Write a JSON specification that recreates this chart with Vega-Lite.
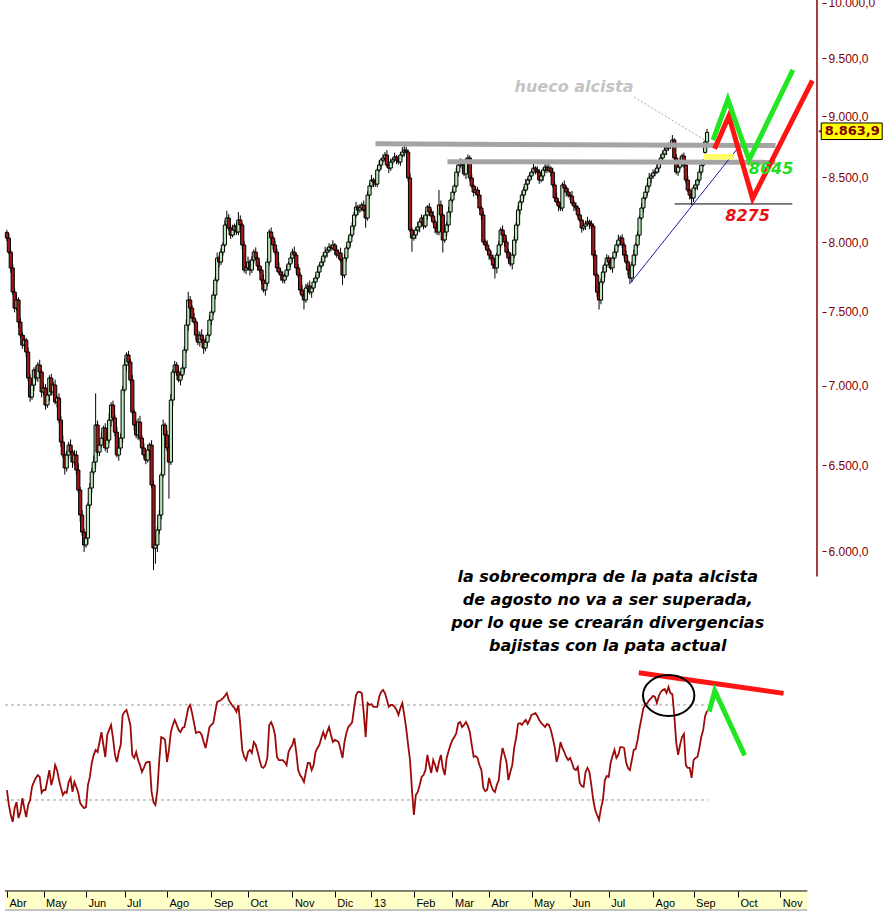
{
"$schema":"https://vega.github.io/schema/vega-lite/v6.json",
"width":822,"height":911,
"autosize":{"type":"none"},
"padding":{"left":0,"top":0,"right":70,"bottom":0},
"background":"#ffffff",
"config":{"view":{"stroke":null},"locale":{"number":{"decimal":",","thousands":".","grouping":[3],"currency":["","€"]}}},
"datasets":{
"cd":[
{"i":0,"o":8075,"h":8095,"l":8008,"c":8033,"r":34.2},{"i":1,"o":8033,"h":8068,"l":7913,"c":7928,"r":27.9},{"i":2,"o":7928,"h":7943,"l":7777,"c":7812,"r":23.7},{"i":3,"o":7812,"h":7842,"l":7619,"c":7639,"r":20.8},{"i":4,"o":7639,"h":7664,"l":7495,"c":7525,"r":26.6},{"i":5,"o":7525,"h":7622,"l":7507,"c":7582,"r":29.1},{"i":6,"o":7582,"h":7600,"l":7388,"c":7428,"r":22.4},{"i":7,"o":7428,"h":7456,"l":7316,"c":7338,"r":24.9},{"i":8,"o":7338,"h":7358,"l":7245,"c":7270,"r":30.8},{"i":9,"o":7270,"h":7339,"l":7255,"c":7304,"r":26.6},
{"i":10,"o":7304,"h":7319,"l":7188,"c":7223,"r":22.8},{"i":11,"o":7223,"h":7253,"l":7030,"c":7050,"r":27.9},{"i":12,"o":7050,"h":7075,"l":6896,"c":6926,"r":30.0},{"i":13,"o":6926,"h":7044,"l":6908,"c":7004,"r":35.5},{"i":14,"o":7004,"h":7121,"l":6964,"c":7103,"r":37.6},{"i":15,"o":7103,"h":7131,"l":7028,"c":7050,"r":39.3},{"i":16,"o":7050,"h":7156,"l":7025,"c":7136,"r":40.5},{"i":17,"o":7136,"h":7171,"l":7075,"c":7090,"r":39.7},{"i":18,"o":7090,"h":7105,"l":6924,"c":6959,"r":33.0},{"i":19,"o":6959,"h":7015,"l":6939,"c":6985,"r":34.2},
{"i":20,"o":6985,"h":7010,"l":6845,"c":6875,"r":34.2},{"i":21,"o":6875,"h":6979,"l":6857,"c":6939,"r":38.4},{"i":22,"o":6939,"h":7068,"l":6899,"c":7050,"r":42.6},{"i":23,"o":7050,"h":7078,"l":6937,"c":6959,"r":36.3},{"i":24,"o":6959,"h":7024,"l":6934,"c":7004,"r":39.3},{"i":25,"o":7004,"h":7039,"l":6879,"c":6894,"r":44.7},{"i":26,"o":6894,"h":6935,"l":6859,"c":6920,"r":42.6},{"i":27,"o":6920,"h":6950,"l":6759,"c":6779,"r":38.4},{"i":28,"o":6779,"h":6804,"l":6612,"c":6642,"r":35.1},{"i":29,"o":6642,"h":6682,"l":6544,"c":6562,"r":32.1},
{"i":30,"o":6562,"h":6580,"l":6443,"c":6483,"r":33.4},{"i":31,"o":6483,"h":6590,"l":6461,"c":6562,"r":33.0},{"i":32,"o":6562,"h":6643,"l":6537,"c":6623,"r":37.6},{"i":33,"o":6623,"h":6658,"l":6565,"c":6580,"r":39.3},{"i":34,"o":6580,"h":6595,"l":6484,"c":6519,"r":33.4},{"i":35,"o":6519,"h":6592,"l":6499,"c":6562,"r":37.6},{"i":36,"o":6562,"h":6587,"l":6441,"c":6471,"r":35.5},{"i":37,"o":6471,"h":6511,"l":6333,"c":6351,"r":33.0},{"i":38,"o":6351,"h":6369,"l":6165,"c":6205,"r":28.7},{"i":39,"o":6205,"h":6233,"l":6085,"c":6107,"r":27.5},
{"i":40,"o":6107,"h":6127,"l":5995,"c":6034,"r":26.6},{"i":41,"o":6034,"h":6108,"l":6019,"c":6073,"r":27.0},{"i":42,"o":6073,"h":6278,"l":6038,"c":6263,"r":36.3},{"i":43,"o":6263,"h":6393,"l":6243,"c":6363,"r":39.7},{"i":44,"o":6363,"h":6484,"l":6333,"c":6459,"r":45.6},{"i":45,"o":6459,"h":6559,"l":6441,"c":6519,"r":49.0},{"i":46,"o":6519,"h":6950,"l":6479,"c":6748,"r":51.1},{"i":47,"o":6748,"h":6776,"l":6558,"c":6580,"r":50.2},{"i":48,"o":6580,"h":6643,"l":6555,"c":6623,"r":54.4},{"i":49,"o":6623,"h":6701,"l":6608,"c":6666,"r":58.6},
{"i":50,"o":6666,"h":6744,"l":6631,"c":6729,"r":53.2},{"i":51,"o":6729,"h":6759,"l":6585,"c":6605,"r":48.1},{"i":52,"o":6605,"h":6679,"l":6575,"c":6654,"r":57.4},{"i":53,"o":6654,"h":6819,"l":6636,"c":6779,"r":59.5},{"i":54,"o":6779,"h":6893,"l":6739,"c":6875,"r":61.6},{"i":55,"o":6875,"h":6903,"l":6770,"c":6792,"r":56.1},{"i":56,"o":6792,"h":6812,"l":6678,"c":6703,"r":49.0},{"i":57,"o":6703,"h":6738,"l":6547,"c":6562,"r":46.0},{"i":58,"o":6562,"h":6620,"l":6527,"c":6605,"r":50.2},{"i":59,"o":6605,"h":6696,"l":6585,"c":6666,"r":53.2},
{"i":60,"o":6666,"h":6997,"l":6636,"c":6972,"r":65.8},{"i":61,"o":6972,"h":7176,"l":6954,"c":7136,"r":67.1},{"i":62,"o":7136,"h":7221,"l":7096,"c":7203,"r":67.9},{"i":63,"o":7203,"h":7231,"l":7134,"c":7156,"r":64.9},{"i":64,"o":7156,"h":7176,"l":7012,"c":7037,"r":61.6},{"i":65,"o":7037,"h":7072,"l":6815,"c":6830,"r":49.0},{"i":66,"o":6830,"h":6845,"l":6713,"c":6748,"r":47.7},{"i":67,"o":6748,"h":6778,"l":6665,"c":6685,"r":50.2},{"i":68,"o":6685,"h":6791,"l":6655,"c":6766,"r":46.8},{"i":69,"o":6766,"h":6806,"l":6648,"c":6666,"r":44.7},
{"i":70,"o":6666,"h":6684,"l":6565,"c":6605,"r":41.8},{"i":71,"o":6605,"h":6633,"l":6540,"c":6562,"r":43.5},{"i":72,"o":6562,"h":6582,"l":6506,"c":6531,"r":45.6},{"i":73,"o":6531,"h":6627,"l":6516,"c":6592,"r":46.0},{"i":74,"o":6592,"h":6638,"l":6557,"c":6623,"r":46.0},{"i":75,"o":6623,"h":6653,"l":6361,"c":6381,"r":33.4},{"i":76,"o":6381,"h":6406,"l":5895,"c":6017,"r":29.1},{"i":77,"o":6017,"h":6074,"l":5930,"c":6034,"r":27.9},{"i":78,"o":6034,"h":6137,"l":5994,"c":6119,"r":34.2},{"i":79,"o":6119,"h":6233,"l":6097,"c":6205,"r":46.8},
{"i":80,"o":6205,"h":6461,"l":6180,"c":6441,"r":56.5},{"i":81,"o":6441,"h":6783,"l":6426,"c":6748,"r":56.1},{"i":82,"o":6748,"h":6763,"l":6650,"c":6685,"r":55.3},{"i":83,"o":6685,"h":6715,"l":6585,"c":6605,"r":46.0},{"i":84,"o":6605,"h":6630,"l":6300,"c":6519,"r":51.1},{"i":85,"o":6519,"h":6947,"l":6501,"c":6907,"r":58.6},{"i":86,"o":6907,"h":7108,"l":6867,"c":7090,"r":61.6},{"i":87,"o":7090,"h":7164,"l":7068,"c":7136,"r":63.7},{"i":88,"o":7136,"h":7156,"l":7065,"c":7090,"r":61.6},{"i":89,"o":7090,"h":7125,"l":7022,"c":7037,"r":59.5},
{"i":90,"o":7037,"h":7085,"l":7002,"c":7070,"r":58.6},{"i":91,"o":7070,"h":7146,"l":7050,"c":7116,"r":60.3},{"i":92,"o":7116,"h":7261,"l":7086,"c":7236,"r":60.7},{"i":93,"o":7236,"h":7447,"l":7218,"c":7407,"r":64.5},{"i":94,"o":7407,"h":7640,"l":7367,"c":7582,"r":68.7},{"i":95,"o":7582,"h":7610,"l":7503,"c":7525,"r":70.0},{"i":96,"o":7525,"h":7545,"l":7430,"c":7455,"r":66.6},{"i":97,"o":7455,"h":7490,"l":7413,"c":7428,"r":62.4},{"i":98,"o":7428,"h":7443,"l":7303,"c":7338,"r":58.2},{"i":99,"o":7338,"h":7368,"l":7270,"c":7290,"r":58.6},
{"i":100,"o":7290,"h":7363,"l":7260,"c":7338,"r":58.6},{"i":101,"o":7338,"h":7378,"l":7286,"c":7304,"r":57.4},{"i":102,"o":7304,"h":7322,"l":7210,"c":7250,"r":54.4},{"i":103,"o":7250,"h":7318,"l":7228,"c":7290,"r":51.9},{"i":104,"o":7290,"h":7358,"l":7265,"c":7338,"r":56.1},{"i":105,"o":7338,"h":7477,"l":7323,"c":7442,"r":60.7},{"i":106,"o":7442,"h":7512,"l":7407,"c":7497,"r":61.6},{"i":107,"o":7497,"h":7647,"l":7477,"c":7617,"r":62.4},{"i":108,"o":7617,"h":7749,"l":7587,"c":7724,"r":67.1},{"i":109,"o":7724,"h":7924,"l":7706,"c":7884,"r":71.3},
{"i":110,"o":7884,"h":7902,"l":7815,"c":7855,"r":71.7},{"i":111,"o":7855,"h":7956,"l":7833,"c":7928,"r":72.1},{"i":112,"o":7928,"h":8001,"l":7903,"c":7981,"r":72.9},{"i":113,"o":7981,"h":8166,"l":7966,"c":8131,"r":73.8},{"i":114,"o":8131,"h":8240,"l":8096,"c":8184,"r":75.0},{"i":115,"o":8184,"h":8214,"l":8088,"c":8108,"r":72.1},{"i":116,"o":8108,"h":8133,"l":8025,"c":8055,"r":70.8},{"i":117,"o":8055,"h":8133,"l":8037,"c":8093,"r":69.6},{"i":118,"o":8093,"h":8141,"l":8053,"c":8123,"r":68.7},{"i":119,"o":8123,"h":8151,"l":8056,"c":8078,"r":67.1},
{"i":120,"o":8078,"h":8230,"l":8053,"c":8169,"r":70.0},{"i":121,"o":8169,"h":8204,"l":8116,"c":8131,"r":61.6},{"i":122,"o":8131,"h":8146,"l":7946,"c":7981,"r":51.1},{"i":123,"o":7981,"h":8011,"l":7777,"c":7797,"r":48.1},{"i":124,"o":7797,"h":7837,"l":7767,"c":7812,"r":46.8},{"i":125,"o":7812,"h":7895,"l":7794,"c":7855,"r":50.2},{"i":126,"o":7855,"h":7873,"l":7757,"c":7797,"r":51.1},{"i":127,"o":7797,"h":7898,"l":7775,"c":7870,"r":49.8},{"i":128,"o":7870,"h":7948,"l":7845,"c":7928,"r":54.4},{"i":129,"o":7928,"h":7963,"l":7869,"c":7884,"r":53.2},
{"i":130,"o":7884,"h":7899,"l":7791,"c":7826,"r":50.2},{"i":131,"o":7826,"h":7856,"l":7777,"c":7797,"r":46.8},{"i":132,"o":7797,"h":7822,"l":7694,"c":7724,"r":43.9},{"i":133,"o":7724,"h":7764,"l":7635,"c":7653,"r":43.5},{"i":134,"o":7653,"h":7720,"l":7613,"c":7702,"r":44.7},{"i":135,"o":7702,"h":7883,"l":7680,"c":7855,"r":47.7},{"i":136,"o":7855,"h":8098,"l":7830,"c":8078,"r":61.6},{"i":137,"o":8078,"h":8113,"l":8018,"c":8033,"r":62.8},{"i":138,"o":8033,"h":8048,"l":7946,"c":7981,"r":60.7},{"i":139,"o":7981,"h":8011,"l":7908,"c":7928,"r":57.4},
{"i":140,"o":7928,"h":7953,"l":7782,"c":7812,"r":48.1},{"i":141,"o":7812,"h":7852,"l":7764,"c":7782,"r":46.8},{"i":142,"o":7782,"h":7800,"l":7720,"c":7760,"r":46.8},{"i":143,"o":7760,"h":7788,"l":7702,"c":7724,"r":46.8},{"i":144,"o":7724,"h":7773,"l":7699,"c":7753,"r":46.0},{"i":145,"o":7753,"h":7832,"l":7738,"c":7797,"r":44.7},{"i":146,"o":7797,"h":7856,"l":7762,"c":7841,"r":50.2},{"i":147,"o":7841,"h":7914,"l":7821,"c":7884,"r":51.9},{"i":148,"o":7884,"h":7953,"l":7854,"c":7928,"r":53.2},{"i":149,"o":7928,"h":7968,"l":7888,"c":7906,"r":56.1},
{"i":150,"o":7906,"h":7924,"l":7772,"c":7812,"r":50.2},{"i":151,"o":7812,"h":7840,"l":7738,"c":7760,"r":42.6},{"i":152,"o":7760,"h":7780,"l":7628,"c":7653,"r":40.5},{"i":153,"o":7653,"h":7688,"l":7602,"c":7617,"r":39.3},{"i":154,"o":7617,"h":7632,"l":7515,"c":7582,"r":37.6},{"i":155,"o":7582,"h":7697,"l":7562,"c":7667,"r":41.8},{"i":156,"o":7667,"h":7706,"l":7637,"c":7681,"r":45.6},{"i":157,"o":7681,"h":7721,"l":7620,"c":7638,"r":45.6},{"i":158,"o":7638,"h":7685,"l":7598,"c":7667,"r":42.6},{"i":159,"o":7667,"h":7738,"l":7645,"c":7710,"r":44.7},
{"i":160,"o":7710,"h":7759,"l":7685,"c":7739,"r":50.2},{"i":161,"o":7739,"h":7817,"l":7724,"c":7782,"r":51.9},{"i":162,"o":7782,"h":7841,"l":7747,"c":7826,"r":53.2},{"i":163,"o":7826,"h":7885,"l":7806,"c":7855,"r":56.1},{"i":164,"o":7855,"h":7924,"l":7825,"c":7899,"r":58.6},{"i":165,"o":7899,"h":7968,"l":7881,"c":7928,"r":56.1},{"i":166,"o":7928,"h":7961,"l":7888,"c":7943,"r":58.6},{"i":167,"o":7943,"h":7994,"l":7921,"c":7966,"r":60.7},{"i":168,"o":7966,"h":7986,"l":7933,"c":7958,"r":57.4},{"i":169,"o":7958,"h":8016,"l":7943,"c":7981,"r":54.4},
{"i":170,"o":7981,"h":7996,"l":7908,"c":7943,"r":55.3},{"i":171,"o":7943,"h":7973,"l":7886,"c":7906,"r":54.9},{"i":172,"o":7906,"h":7946,"l":7876,"c":7921,"r":54.4},{"i":173,"o":7921,"h":7961,"l":7852,"c":7870,"r":51.1},{"i":174,"o":7870,"h":7888,"l":7690,"c":7760,"r":47.7},{"i":175,"o":7760,"h":7912,"l":7738,"c":7884,"r":54.4},{"i":176,"o":7884,"h":7978,"l":7859,"c":7958,"r":58.2},{"i":177,"o":7958,"h":8038,"l":7943,"c":8003,"r":60.7},{"i":178,"o":8003,"h":8070,"l":7968,"c":8055,"r":61.6},{"i":179,"o":8055,"h":8153,"l":8035,"c":8123,"r":62.8},
{"i":180,"o":8123,"h":8232,"l":8093,"c":8207,"r":68.7},{"i":181,"o":8207,"h":8308,"l":8189,"c":8268,"r":74.2},{"i":182,"o":8268,"h":8286,"l":8205,"c":8245,"r":75.5},{"i":183,"o":8245,"h":8289,"l":8223,"c":8261,"r":75.5},{"i":184,"o":8261,"h":8304,"l":8236,"c":8284,"r":75.0},{"i":185,"o":8284,"h":8319,"l":8230,"c":8245,"r":66.6},{"i":186,"o":8245,"h":8260,"l":8110,"c":8184,"r":56.5},{"i":187,"o":8184,"h":8391,"l":8164,"c":8361,"r":70.8},{"i":188,"o":8361,"h":8457,"l":8331,"c":8432,"r":70.0},{"i":189,"o":8432,"h":8519,"l":8414,"c":8479,"r":70.4},
{"i":190,"o":8479,"h":8497,"l":8423,"c":8463,"r":69.2},{"i":191,"o":8463,"h":8491,"l":8425,"c":8447,"r":69.2},{"i":192,"o":8447,"h":8578,"l":8422,"c":8558,"r":69.2},{"i":193,"o":8558,"h":8633,"l":8543,"c":8598,"r":73.4},{"i":194,"o":8598,"h":8654,"l":8563,"c":8639,"r":75.5},{"i":195,"o":8639,"h":8685,"l":8619,"c":8655,"r":76.3},{"i":196,"o":8655,"h":8704,"l":8625,"c":8679,"r":75.0},{"i":197,"o":8679,"h":8719,"l":8580,"c":8598,"r":72.1},{"i":198,"o":8598,"h":8616,"l":8534,"c":8574,"r":69.2},{"i":199,"o":8574,"h":8650,"l":8552,"c":8622,"r":70.0},
{"i":200,"o":8622,"h":8659,"l":8597,"c":8639,"r":70.0},{"i":201,"o":8639,"h":8698,"l":8624,"c":8663,"r":69.2},{"i":202,"o":8663,"h":8678,"l":8604,"c":8639,"r":67.9},{"i":203,"o":8639,"h":8669,"l":8602,"c":8622,"r":65.8},{"i":204,"o":8622,"h":8704,"l":8592,"c":8679,"r":68.7},{"i":205,"o":8679,"h":8743,"l":8661,"c":8703,"r":70.8},{"i":206,"o":8703,"h":8760,"l":8663,"c":8719,"r":65.8},{"i":207,"o":8719,"h":8747,"l":8681,"c":8703,"r":60.3},{"i":208,"o":8703,"h":8723,"l":8470,"c":8495,"r":53.2},{"i":209,"o":8495,"h":8530,"l":8078,"c":8093,"r":46.8},
{"i":210,"o":8093,"h":8108,"l":7930,"c":8033,"r":34.2},{"i":211,"o":8033,"h":8085,"l":8013,"c":8055,"r":23.7},{"i":212,"o":8055,"h":8118,"l":8025,"c":8093,"r":32.1},{"i":213,"o":8093,"h":8156,"l":8075,"c":8116,"r":33.4},{"i":214,"o":8116,"h":8172,"l":8076,"c":8154,"r":36.3},{"i":215,"o":8154,"h":8212,"l":8132,"c":8184,"r":39.7},{"i":216,"o":8184,"h":8204,"l":8098,"c":8123,"r":40.5},{"i":217,"o":8123,"h":8242,"l":8108,"c":8207,"r":42.6},{"i":218,"o":8207,"h":8283,"l":8172,"c":8268,"r":49.0},{"i":219,"o":8268,"h":8298,"l":8210,"c":8230,"r":44.7},
{"i":220,"o":8230,"h":8255,"l":8169,"c":8199,"r":41.4},{"i":221,"o":8199,"h":8239,"l":8136,"c":8154,"r":46.8},{"i":222,"o":8154,"h":8172,"l":8068,"c":8108,"r":44.7},{"i":223,"o":8108,"h":8136,"l":8056,"c":8078,"r":41.8},{"i":224,"o":8078,"h":8400,"l":8053,"c":8284,"r":46.0},{"i":225,"o":8284,"h":8319,"l":8192,"c":8207,"r":49.0},{"i":226,"o":8207,"h":8222,"l":7925,"c":8018,"r":43.5},{"i":227,"o":8018,"h":8108,"l":7998,"c":8078,"r":40.5},{"i":228,"o":8078,"h":8156,"l":8048,"c":8131,"r":47.7},{"i":229,"o":8131,"h":8270,"l":8113,"c":8230,"r":50.6},
{"i":230,"o":8230,"h":8340,"l":8190,"c":8322,"r":53.2},{"i":231,"o":8322,"h":8412,"l":8300,"c":8384,"r":55.3},{"i":232,"o":8384,"h":8452,"l":8359,"c":8432,"r":56.5},{"i":233,"o":8432,"h":8577,"l":8417,"c":8542,"r":58.2},{"i":234,"o":8542,"h":8613,"l":8507,"c":8598,"r":62.4},{"i":235,"o":8598,"h":8652,"l":8578,"c":8622,"r":62.8},{"i":236,"o":8622,"h":8647,"l":8568,"c":8598,"r":60.7},{"i":237,"o":8598,"h":8638,"l":8509,"c":8527,"r":61.6},{"i":238,"o":8527,"h":8657,"l":8487,"c":8639,"r":62.8},{"i":239,"o":8639,"h":8683,"l":8617,"c":8655,"r":61.2},
{"i":240,"o":8655,"h":8675,"l":8470,"c":8495,"r":58.6},{"i":241,"o":8495,"h":8530,"l":8417,"c":8432,"r":53.2},{"i":242,"o":8432,"h":8447,"l":8349,"c":8384,"r":48.1},{"i":243,"o":8384,"h":8430,"l":8364,"c":8400,"r":48.5},{"i":244,"o":8400,"h":8425,"l":8331,"c":8361,"r":47.7},{"i":245,"o":8361,"h":8401,"l":8243,"c":8261,"r":44.7},{"i":246,"o":8261,"h":8279,"l":8167,"c":8207,"r":42.6},{"i":247,"o":8207,"h":8235,"l":7981,"c":8003,"r":35.1},{"i":248,"o":8003,"h":8023,"l":7956,"c":7981,"r":33.8},{"i":249,"o":7981,"h":8016,"l":7928,"c":7943,"r":34.2},
{"i":250,"o":7943,"h":7958,"l":7871,"c":7906,"r":39.3},{"i":251,"o":7906,"h":7936,"l":7864,"c":7884,"r":36.3},{"i":252,"o":7884,"h":7909,"l":7803,"c":7833,"r":34.2},{"i":253,"o":7833,"h":7873,"l":7735,"c":7812,"r":33.4},{"i":254,"o":7812,"h":7924,"l":7772,"c":7906,"r":36.3},{"i":255,"o":7906,"h":8009,"l":7884,"c":7981,"r":38.4},{"i":256,"o":7981,"h":8113,"l":7956,"c":8093,"r":46.8},{"i":257,"o":8093,"h":8128,"l":8040,"c":8055,"r":51.9},{"i":258,"o":8055,"h":8070,"l":7968,"c":8003,"r":49.0},{"i":259,"o":8003,"h":8033,"l":7908,"c":7928,"r":46.0},
{"i":260,"o":7928,"h":7953,"l":7854,"c":7884,"r":38.4},{"i":261,"o":7884,"h":7924,"l":7823,"c":7841,"r":41.8},{"i":262,"o":7841,"h":7924,"l":7801,"c":7906,"r":44.7},{"i":263,"o":7906,"h":8046,"l":7884,"c":8018,"r":51.9},{"i":264,"o":8018,"h":8151,"l":7993,"c":8131,"r":56.1},{"i":265,"o":8131,"h":8280,"l":8116,"c":8245,"r":62.0},{"i":266,"o":8245,"h":8322,"l":8210,"c":8307,"r":62.4},{"i":267,"o":8307,"h":8391,"l":8287,"c":8361,"r":61.6},{"i":268,"o":8361,"h":8425,"l":8331,"c":8400,"r":62.8},{"i":269,"o":8400,"h":8487,"l":8382,"c":8447,"r":63.7},
{"i":270,"o":8447,"h":8497,"l":8407,"c":8479,"r":62.0},{"i":271,"o":8479,"h":8539,"l":8457,"c":8511,"r":63.7},{"i":272,"o":8511,"h":8562,"l":8486,"c":8542,"r":65.8},{"i":273,"o":8542,"h":8609,"l":8527,"c":8574,"r":66.2},{"i":274,"o":8574,"h":8589,"l":8523,"c":8558,"r":66.6},{"i":275,"o":8558,"h":8588,"l":8522,"c":8542,"r":65.4},{"i":276,"o":8542,"h":8567,"l":8449,"c":8479,"r":63.7},{"i":277,"o":8479,"h":8551,"l":8461,"c":8511,"r":62.4},{"i":278,"o":8511,"h":8576,"l":8471,"c":8558,"r":61.6},{"i":279,"o":8558,"h":8610,"l":8536,"c":8582,"r":60.7},
{"i":280,"o":8582,"h":8602,"l":8533,"c":8558,"r":62.0},{"i":281,"o":8558,"h":8609,"l":8543,"c":8574,"r":61.6},{"i":282,"o":8574,"h":8589,"l":8507,"c":8542,"r":59.5},{"i":283,"o":8542,"h":8572,"l":8420,"c":8440,"r":56.1},{"i":284,"o":8440,"h":8465,"l":8308,"c":8338,"r":52.3},{"i":285,"o":8338,"h":8378,"l":8289,"c":8307,"r":46.0},{"i":286,"o":8307,"h":8325,"l":8236,"c":8276,"r":49.0},{"i":287,"o":8276,"h":8304,"l":8239,"c":8261,"r":54.4},{"i":288,"o":8261,"h":8460,"l":8236,"c":8440,"r":51.9},{"i":289,"o":8440,"h":8475,"l":8401,"c":8416,"r":50.2},
{"i":290,"o":8416,"h":8431,"l":8349,"c":8384,"r":48.1},{"i":291,"o":8384,"h":8414,"l":8341,"c":8361,"r":46.8},{"i":292,"o":8361,"h":8386,"l":8323,"c":8353,"r":47.7},{"i":293,"o":8353,"h":8393,"l":8281,"c":8299,"r":45.6},{"i":294,"o":8299,"h":8317,"l":8236,"c":8276,"r":43.1},{"i":295,"o":8276,"h":8304,"l":8239,"c":8261,"r":42.6},{"i":296,"o":8261,"h":8281,"l":8182,"c":8207,"r":43.9},{"i":297,"o":8207,"h":8242,"l":8154,"c":8169,"r":37.2},{"i":298,"o":8169,"h":8184,"l":8073,"c":8108,"r":35.9},{"i":299,"o":8108,"h":8153,"l":8088,"c":8123,"r":35.5},
{"i":300,"o":8123,"h":8164,"l":8093,"c":8139,"r":41.8},{"i":301,"o":8139,"h":8194,"l":8121,"c":8154,"r":43.5},{"i":302,"o":8154,"h":8172,"l":8099,"c":8139,"r":41.8},{"i":303,"o":8139,"h":8167,"l":8101,"c":8123,"r":36.3},{"i":304,"o":8123,"h":8143,"l":7881,"c":7906,"r":30.0},{"i":305,"o":7906,"h":7941,"l":7745,"c":7760,"r":25.8},{"i":306,"o":7760,"h":7775,"l":7603,"c":7638,"r":23.7},{"i":307,"o":7638,"h":7668,"l":7515,"c":7582,"r":21.6},{"i":308,"o":7582,"h":7735,"l":7552,"c":7710,"r":26.6},{"i":309,"o":7710,"h":7822,"l":7692,"c":7782,"r":30.0},
{"i":310,"o":7782,"h":7851,"l":7742,"c":7833,"r":38.4},{"i":311,"o":7833,"h":7912,"l":7811,"c":7884,"r":40.1},{"i":312,"o":7884,"h":7904,"l":7830,"c":7855,"r":39.7},{"i":313,"o":7855,"h":7890,"l":7797,"c":7812,"r":45.6},{"i":314,"o":7812,"h":7899,"l":7777,"c":7884,"r":48.5},{"i":315,"o":7884,"h":7958,"l":7864,"c":7928,"r":51.1},{"i":316,"o":7928,"h":8006,"l":7898,"c":7981,"r":47.7},{"i":317,"o":7981,"h":8058,"l":7963,"c":8018,"r":49.0},{"i":318,"o":8018,"h":8051,"l":7978,"c":8033,"r":52.3},{"i":319,"o":8033,"h":8061,"l":7959,"c":7981,"r":52.3},
{"i":320,"o":7981,"h":8001,"l":7881,"c":7906,"r":51.9},{"i":321,"o":7906,"h":7941,"l":7840,"c":7855,"r":46.0},{"i":322,"o":7855,"h":7870,"l":7762,"c":7797,"r":43.5},{"i":323,"o":7797,"h":7827,"l":7695,"c":7739,"r":42.6},{"i":324,"o":7739,"h":7858,"l":7709,"c":7833,"r":46.8},{"i":325,"o":7833,"h":7946,"l":7815,"c":7906,"r":51.1},{"i":326,"o":7906,"h":7999,"l":7866,"c":7981,"r":51.5},{"i":327,"o":7981,"h":8083,"l":7959,"c":8055,"r":55.3},{"i":328,"o":8055,"h":8204,"l":8030,"c":8184,"r":60.3},{"i":329,"o":8184,"h":8296,"l":8169,"c":8261,"r":64.5},
{"i":330,"o":8261,"h":8353,"l":8226,"c":8338,"r":68.7},{"i":331,"o":8338,"h":8414,"l":8318,"c":8384,"r":70.0},{"i":332,"o":8384,"h":8457,"l":8354,"c":8432,"r":70.8},{"i":333,"o":8432,"h":8535,"l":8414,"c":8495,"r":72.1},{"i":334,"o":8495,"h":8529,"l":8455,"c":8511,"r":72.9},{"i":335,"o":8511,"h":8563,"l":8489,"c":8535,"r":73.8},{"i":336,"o":8535,"h":8562,"l":8510,"c":8542,"r":73.4},{"i":337,"o":8542,"h":8609,"l":8527,"c":8574,"r":70.8},{"i":338,"o":8574,"h":8637,"l":8539,"c":8622,"r":73.8},{"i":339,"o":8622,"h":8685,"l":8602,"c":8655,"r":75.5},
{"i":340,"o":8655,"h":8712,"l":8625,"c":8687,"r":76.3},{"i":341,"o":8687,"h":8759,"l":8669,"c":8719,"r":76.7},{"i":342,"o":8719,"h":8754,"l":8679,"c":8736,"r":75.0},{"i":343,"o":8736,"h":8780,"l":8714,"c":8752,"r":77.6},{"i":344,"o":8752,"h":8788,"l":8727,"c":8768,"r":75.0},{"i":345,"o":8768,"h":8842,"l":8753,"c":8801,"r":74.6},{"i":346,"o":8801,"h":8816,"l":8620,"c":8655,"r":65.8},{"i":347,"o":8655,"h":8685,"l":8522,"c":8542,"r":54.4},{"i":348,"o":8542,"h":8607,"l":8512,"c":8582,"r":49.0},{"i":349,"o":8582,"h":8662,"l":8564,"c":8622,"r":53.2},
{"i":350,"o":8622,"h":8689,"l":8582,"c":8671,"r":56.5},{"i":351,"o":8671,"h":8699,"l":8576,"c":8598,"r":57.8},{"i":352,"o":8598,"h":8618,"l":8454,"c":8479,"r":44.7},{"i":353,"o":8479,"h":8514,"l":8385,"c":8400,"r":43.5},{"i":354,"o":8400,"h":8415,"l":8326,"c":8361,"r":43.5},{"i":355,"o":8361,"h":8391,"l":8284,"c":8338,"r":39.3},{"i":356,"o":8338,"h":8441,"l":8308,"c":8416,"r":46.8},{"i":357,"o":8416,"h":8480,"l":8398,"c":8440,"r":47.7},{"i":358,"o":8440,"h":8497,"l":8400,"c":8479,"r":48.1},{"i":359,"o":8479,"h":8570,"l":8457,"c":8542,"r":51.9},
{"i":360,"o":8542,"h":8618,"l":8517,"c":8598,"r":56.5},{"i":361,"o":8598,"h":8645,"l":8583,"c":8630,"r":59.5},{"i":362,"o":8700,"h":8800,"l":8690,"c":8785,"r":65.4},{"i":363,"o":8785,"h":8892,"l":8763,"c":8863.9,"r":67.5}
],
"pa":[
{"k":"g1","i":191.1,"p":8770},{"k":"g1","i":398.5,"p":8756},
{"k":"g2","i":228.4,"p":8625},{"k":"g2","i":398.5,"p":8620},
{"k":"bl","i":323.4,"p":7705},{"k":"bl","i":379.0,"p":8736},
{"k":"bk","i":346.2,"p":8292},{"k":"bk","i":407.2,"p":8292},
{"k":"ld","i":325.2,"p":9161},{"k":"ld","i":362.6,"p":8793},
{"k":"gz","i":366.1,"p":8801},{"k":"gz","i":373.8,"p":9141},{"k":"gz","i":384.8,"p":8639},{"k":"gz","i":407.5,"p":9395},
{"k":"rz","i":366.9,"p":8730},{"k":"rz","i":374.3,"p":8999},{"k":"rz","i":386.6,"p":8334},{"k":"rz","i":417.6,"p":9302}
],
"ra":[
{"k":"h70","i":-1,"v":70},{"k":"h70","i":363.5,"v":70},
{"k":"h30","i":-1,"v":30},{"k":"h30","i":363.5,"v":30},
{"k":"rl","i":327.6,"v":83.6},{"k":"rl","i":402.7,"v":74.9},
{"k":"gz","i":364.1,"v":67.2},{"k":"gz","i":367.0,"v":76.0},{"k":"gz","i":382.5,"v":48.8}
]
},
"encoding":{"x":{"field":"i","type":"quantitative","scale":{"domain":[-1,420],"nice":false,"zero":false},
"axis":{"title":null,"orient":"bottom","offset":-20,"zindex":1,"domain":false,"grid":false,
"values":[0,19,41,61,83,106,125,148,170,189,211,231,250,272,292,312,335,356,379,401],
"labelExpr":"['Abr','May','Jun','Jul','Ago','Sep','Oct','Nov','Dic','13','Feb','Mar','Abr','May','Jun','Jul','Ago','Sep','Oct','Nov'][indexof([0,19,41,61,83,106,125,148,170,189,211,231,250,272,292,312,335,356,379,401], datum.value)]",
"tickColor":"#000000","tickSize":6,"tickWidth":1,"labelAlign":"left","labelBaseline":"top","labelPadding":0,"labelOffset":2,
"labelFont":"Liberation Sans","labelFontSize":11,"labelColor":"#000000","labelFlush":false,"labelOverlap":false}}},
"layer":[
{"layer":[
{"data":{"name":"cd"},"mark":{"type":"rule","color":"#000000","strokeWidth":1},
 "encoding":{"y":{"field":"l","type":"quantitative","scale":{"type":"log","domain":[4290,10028],"nice":false},
  "axis":{"orient":"right","title":null,"values":[6000,6500,7000,7500,8000,8500,9000,9500,10000],"format":",.1f","domain":false,"grid":false,"ticks":true,"tickColor":"#800000","tickSize":4,"labels":true,"labelColor":"#800000","labelFont":"Liberation Sans","labelFontSize":12,"labelPadding":2,"labelFlush":false,"labelOverlap":false,"zindex":1}},
  "y2":{"field":"h"}}},
{"data":{"name":"cd"},"mark":{"type":"bar","size":3.2,"stroke":"#000000","strokeWidth":1},
 "encoding":{"y":{"field":"o","type":"quantitative","scale":{"type":"log","domain":[4290,10028],"nice":false}},
  "y2":{"field":"c"},
  "fill":{"condition":{"test":"datum.c >= datum.o","value":"#b8e8b8"},"value":"#a01818"}}},
{"data":{"values":[{"i":420,"p":5860,"p2":10100}]},"mark":{"type":"rule","color":"#800000","strokeWidth":1.5},
 "encoding":{"y":{"field":"p","type":"quantitative","scale":{"type":"log","domain":[4290,10028],"nice":false}},"y2":{"field":"p2"}}},
{"data":{"name":"pa"},"transform":[{"filter":"datum.k=='g1' || datum.k=='g2'"}],"mark":{"type":"line","color":"#a4a4a4","strokeWidth":5},
 "encoding":{"y":{"field":"p","type":"quantitative","scale":{"type":"log","domain":[4290,10028],"nice":false}},"detail":{"field":"k"}}},
{"data":{"name":"pa"},"transform":[{"filter":"datum.k=='bl'"}],"mark":{"type":"line","color":"#1c1ca8","strokeWidth":1},
 "encoding":{"y":{"field":"p","type":"quantitative","scale":{"type":"log","domain":[4290,10028],"nice":false}}}},
{"data":{"name":"pa"},"transform":[{"filter":"datum.k=='bk'"}],"mark":{"type":"line","color":"#000000","strokeWidth":1},
 "encoding":{"y":{"field":"p","type":"quantitative","scale":{"type":"log","domain":[4290,10028],"nice":false}}}},
{"data":{"name":"pa"},"transform":[{"filter":"datum.k=='ld'"}],"mark":{"type":"line","color":"#a8a8a8","strokeWidth":1,"strokeDash":[2,2]},
 "encoding":{"y":{"field":"p","type":"quantitative","scale":{"type":"log","domain":[4290,10028],"nice":false}}}},
{"data":{"values":[{"i":361.1,"i2":377.0,"p":8642,"p2":8687}]},"mark":{"type":"rect","color":"#ffff66"},
 "encoding":{"x2":{"field":"i2"},"y":{"field":"p","type":"quantitative","scale":{"type":"log","domain":[4290,10028],"nice":false}},"y2":{"field":"p2"}}},
{"data":{"name":"pa"},"transform":[{"filter":"datum.k=='rz'"}],"mark":{"type":"line","color":"#ff1414","strokeWidth":5},
 "encoding":{"y":{"field":"p","type":"quantitative","scale":{"type":"log","domain":[4290,10028],"nice":false}}}},
{"data":{"name":"pa"},"transform":[{"filter":"datum.k=='gz'"}],"mark":{"type":"line","color":"#22e622","strokeWidth":5},
 "encoding":{"y":{"field":"p","type":"quantitative","scale":{"type":"log","domain":[4290,10028],"nice":false}}}},
{"data":{"values":[{"i":294.0,"p":9247,"t":"hueco alcista"}]},"mark":{"type":"text","font":"DejaVu Sans","fontSize":16,"fontWeight":"bold","fontStyle":"italic","color":"#c4c4c4","align":"center","baseline":"middle"},
 "encoding":{"y":{"field":"p","type":"quantitative","scale":{"type":"log","domain":[4290,10028],"nice":false}},"text":{"field":"t"}}},
{"data":{"values":[{"i":396.2,"p":8566,"t":"8645"}]},"mark":{"type":"text","font":"DejaVu Sans","fontSize":16,"fontWeight":"bold","fontStyle":"italic","color":"#22dd22","align":"center","baseline":"middle"},
 "encoding":{"y":{"field":"p","type":"quantitative","scale":{"type":"log","domain":[4290,10028],"nice":false}},"text":{"field":"t"}}},
{"data":{"values":[{"i":384.0,"p":8199,"t":"8275"}]},"mark":{"type":"text","font":"DejaVu Sans","fontSize":16,"fontWeight":"bold","fontStyle":"italic","color":"#e81010","align":"center","baseline":"middle"},
 "encoding":{"y":{"field":"p","type":"quantitative","scale":{"type":"log","domain":[4290,10028],"nice":false}},"text":{"field":"t"}}},
{"data":{"values":[{"i":422.2,"i2":453.8,"p":8805,"p2":8942}]},"mark":{"type":"rect","fill":"#ffff00","stroke":"#000000","strokeWidth":1},
 "encoding":{"x2":{"field":"i2"},"y":{"field":"p","type":"quantitative","scale":{"type":"log","domain":[4290,10028],"nice":false}},"y2":{"field":"p2"}}},
{"data":{"values":[{"i":421.3,"p":8873}]},"mark":{"type":"point","shape":"triangle-left","size":10,"filled":true,"color":"#800000","opacity":1},
 "encoding":{"y":{"field":"p","type":"quantitative","scale":{"type":"log","domain":[4290,10028],"nice":false}}}},
{"data":{"values":[{"i":424.0,"p":8873,"t":"8.863,9"}]},"mark":{"type":"text","font":"DejaVu Sans","fontSize":13,"fontWeight":"bold","color":"#800000","align":"left","baseline":"middle"},
 "encoding":{"y":{"field":"p","type":"quantitative","scale":{"type":"log","domain":[4290,10028],"nice":false}},"text":{"field":"t"}}}
]},
{"layer":[
{"data":{"values":[{"i":-1,"i2":415,"v":-8.3,"v2":-15.9}]},"mark":{"type":"rect","color":"#ffffc8"},
 "encoding":{"x2":{"field":"i2"},"y":{"field":"v","type":"quantitative","scale":{"domain":[-16.74,366.84],"nice":false,"zero":false},"axis":null},"y2":{"field":"v2"}}},
{"data":{"values":[{"i":-1,"i2":415,"v":-15.9,"v2":-16.74}]},"mark":{"type":"rect","color":"#c4c4c4"},
 "encoding":{"x2":{"field":"i2"},"y":{"field":"v","type":"quantitative","scale":{"domain":[-16.74,366.84],"nice":false,"zero":false},"axis":null},"y2":{"field":"v2"}}},
{"data":{"values":[{"i":-1,"i2":415,"v":-8.3}]},"mark":{"type":"rule","color":"#000000","strokeWidth":1},
 "encoding":{"x2":{"field":"i2"},"y":{"field":"v","type":"quantitative","scale":{"domain":[-16.74,366.84],"nice":false,"zero":false},"axis":null}}},
{"data":{"name":"ra"},"transform":[{"filter":"datum.k=='h70' || datum.k=='h30'"}],"mark":{"type":"line","color":"#9a9a9a","strokeWidth":1,"strokeDash":[3,3]},
 "encoding":{"y":{"field":"v","type":"quantitative","scale":{"domain":[-16.74,366.84],"nice":false,"zero":false},"axis":null},"detail":{"field":"k"}}},
{"data":{"name":"cd"},"mark":{"type":"line","color":"#9c0a0a","strokeWidth":1.8},
 "encoding":{"y":{"field":"r","type":"quantitative","scale":{"domain":[-16.74,366.84],"nice":false,"zero":false},"axis":null}}},
{"data":{"name":"ra"},"transform":[{"filter":"datum.k=='rl'"}],"mark":{"type":"line","color":"#ff1414","strokeWidth":5},
 "encoding":{"y":{"field":"v","type":"quantitative","scale":{"domain":[-16.74,366.84],"nice":false,"zero":false},"axis":null}}},
{"data":{"name":"ra"},"transform":[{"filter":"datum.k=='gz'"}],"mark":{"type":"line","color":"#22e622","strokeWidth":5},
 "encoding":{"y":{"field":"v","type":"quantitative","scale":{"domain":[-16.74,366.84],"nice":false,"zero":false},"axis":null}}},
{"data":{"values":[{"i":343.1,"v":74.0}]},"mark":{"type":"point","shape":"M-1.25,0A1.25,1,0,1,0,1.25,0A1.25,1,0,1,0,-1.25,0","size":1690,"filled":false,"stroke":"#000000","strokeWidth":2,"opacity":1},
 "encoding":{"y":{"field":"v","type":"quantitative","scale":{"domain":[-16.74,366.84],"nice":false,"zero":false},"axis":null}}},
{"data":{"values":[
 {"i":311.5,"v":123.9,"t":"la sobrecompra de la pata alcista"},
 {"i":311.5,"v":114.2,"t":"de agosto no va a ser superada,"},
 {"i":311.5,"v":104.5,"t":"por lo que se crearán divergencias"},
 {"i":311.5,"v":94.8,"t":"bajistas con la pata actual"}]},
 "mark":{"type":"text","font":"DejaVu Sans","fontSize":16,"fontWeight":"bold","fontStyle":"italic","color":"#000000","align":"center","baseline":"middle"},
 "encoding":{"y":{"field":"v","type":"quantitative","scale":{"domain":[-16.74,366.84],"nice":false,"zero":false},"axis":null},"text":{"field":"t"}}}
]}
],
"resolve":{"scale":{"y":"independent"}}
}
